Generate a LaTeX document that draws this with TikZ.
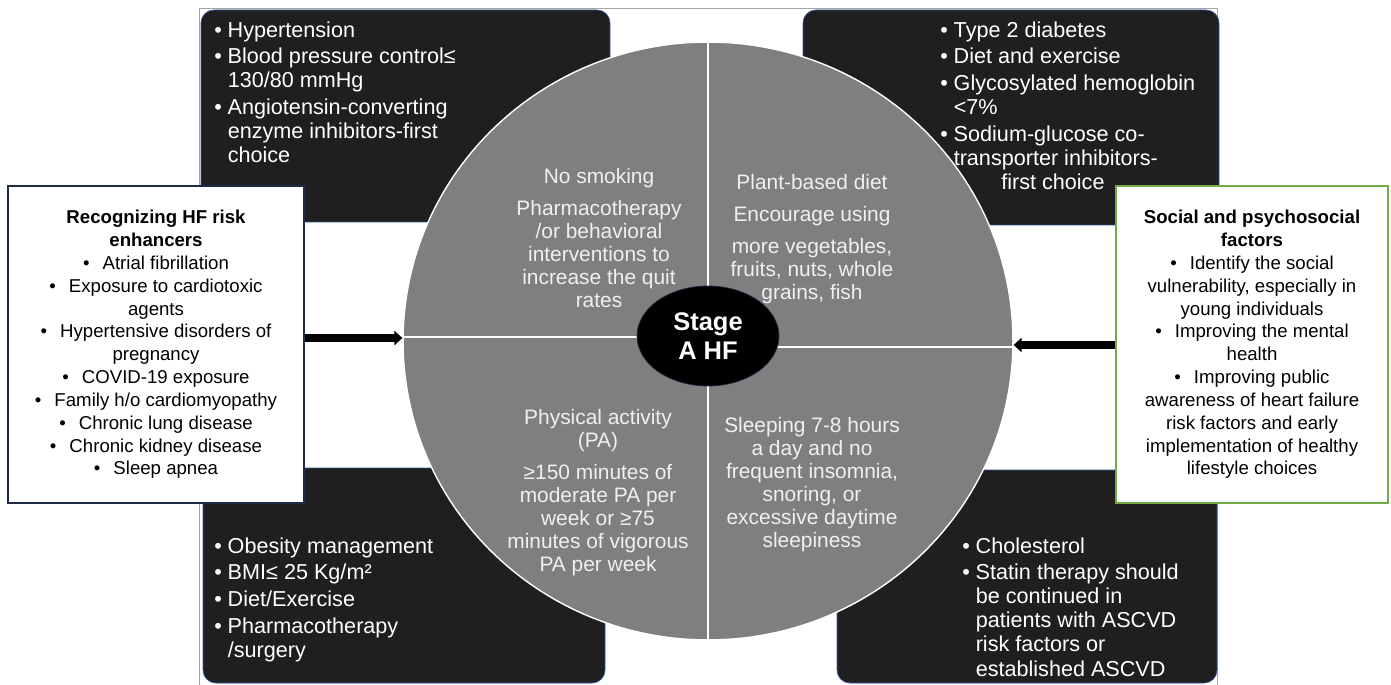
\documentclass[tikz,border=0pt]{standalone}
\usepackage{fontspec}
\setmainfont{Liberation Sans}
\usepackage{xcolor}
\usetikzlibrary{arrows.meta, positioning, shapes.geometric}
\definecolor{darkfill}{HTML}{1F1F1F}
\definecolor{piegray}{HTML}{7F7F7F}
\definecolor{navyline}{HTML}{1F2A44}
\definecolor{leafline}{HTML}{70AD47}
\definecolor{edgeblue}{HTML}{2F5597}
\newcommand{\darkitem}{\makebox[0.62em][l]{\textbullet}}
\newcommand{\darkcont}{\hspace*{0.62em}}
\newcommand{\dotitem}{\textbullet\hspace{0.7em}}

\begin{document}
\begin{tikzpicture}[
      x=0.02cm, y=-0.02cm,
      darkbox/.style={fill=darkfill, draw=edgeblue, line width=0.4pt, rounded corners=0.26cm},
      darktext/.style={text=white, align=left, anchor=north west, inner sep=0pt, font=\fontsize{12.3}{13.7}\selectfont},
      pietext/.style={text=white!94!black, align=center, anchor=north, inner sep=0pt, font=\fontsize{11.9}{13.1}\selectfont},
      sidebox/.style={fill=white, line width=0.7pt, minimum height=6.34cm, inner sep=0pt, align=center, font=\fontsize{10.6}{13}\selectfont},
      bigarrow/.style={line width=4pt, -{Triangle[length=4.5pt, width=8pt]}}
    ]
      \useasboundingbox (0,0) rectangle (1391,685);
      \draw[gray!70, line width=0.5pt] (199,690) -- (199,8) -- (1217,8) -- (1217,690);

      \draw[darkbox] (201,10) rectangle (610,222);
      \draw[darkbox] (803,10) rectangle (1219,225);
      \draw[darkbox] (203,468) rectangle (605,683);
      \draw[darkbox] (837,470) rectangle (1217,683);

      \node[darktext] (hyper) at (214,21) {\darkitem Hypertension\\[1.5pt]
        \darkitem Blood pressure control≤\\ \darkcont 130/80 mmHg\\[1.5pt]
        \darkitem Angiotensin-converting\\ \darkcont enzyme inhibitors-first\\ \darkcont choice};
      \node[darktext] (diabetes) at (940,21) {\darkitem Type 2 diabetes\\[1.5pt]
        \darkitem Diet and exercise\\[1.5pt]
        \darkitem Glycosylated hemoglobin\\ \darkcont <7\%\\[1.5pt]
        \darkitem Sodium-glucose co-\\ \darkcont transporter inhibitors-\\ \darkcont\hspace*{2.2em}first choice};
      \node[darktext] (obesity) at (214,537) {\darkitem Obesity management\\[1.5pt]
        \darkitem BMI≤ 25 Kg/m²\\[1.5pt]
        \darkitem Diet/Exercise\\[1.5pt]
        \darkitem Pharmacotherapy\\ \darkcont /surgery};
      \node[darktext] (cholesterol) at (962,537) {\darkitem Cholesterol\\[1.5pt]
        \darkitem Statin therapy should\\ \darkcont be continued in\\ \darkcont patients with ASCVD\\
        \darkcont risk factors or\\ \darkcont established ASCVD};

      \node[ellipse, fill=piegray, draw=white, line width=0.8pt, minimum width=12.2cm, minimum height=11.96cm, inner sep=0pt] (circ) at (708,341) {};
      \draw[white, line width=0.9pt] (circ.north) -- (circ.south);
      \coordinate (lsplit) at ([yshift=0.08cm]circ.west);
      \coordinate (rsplit) at ([yshift=-0.12cm]circ.east);
      \draw[white, line width=0.9pt] (lsplit) -- (lsplit -| circ.center);
      \draw[white, line width=0.9pt] (rsplit) -- (rsplit -| circ.center);

      \node[pietext] (smoking) at (599,168) {No smoking\\[5pt] Pharmacotherapy\\ /or behavioral\\ interventions to\\ increase the quit\\ rates};
      \node[pietext] (diet) at (812,174) {Plant-based diet\\[5pt] Encourage using\\[5pt] more vegetables,\\ fruits, nuts, whole\\ grains, fish};
      \node[pietext] (activity) at (598,409) {Physical activity\\ (PA)\\[5pt] ≥150 minutes of\\ moderate PA per\\ week or ≥75\\ minutes of vigorous\\ PA per week};
      \node[pietext] (sleep) at (812,417) {Sleeping 7-8 hours\\ a day and no\\ frequent insomnia,\\ snoring, or\\ excessive daytime\\ sleepiness};

      \node[ellipse, fill=black, draw=navyline, minimum width=2.84cm, minimum height=2cm, inner sep=0pt, text=white, align=center, font=\bfseries\fontsize{14.5}{16.5}\selectfont] (stage) at (708,336) {Stage\\A HF};

      \node[sidebox, draw=navyline, minimum width=5.92cm] (enhancers) at (156,344.5) {\textbf{Recognizing HF risk}\\ \textbf{enhancers}\\
        \dotitem Atrial fibrillation\\ \dotitem Exposure to cardiotoxic\\ agents\\
        \dotitem Hypertensive disorders of\\ pregnancy\\ \dotitem COVID-19 exposure\\
        \dotitem Family h/o cardiomyopathy\\ \dotitem Chronic lung disease\\
        \dotitem Chronic kidney disease\\ \dotitem Sleep apnea};
      \node[sidebox, draw=leafline, minimum width=5.44cm] (social) at (1252,344.5) {\textbf{Social and psychosocial}\\ \textbf{factors}\\
        \dotitem Identify the social\\ vulnerability, especially in\\ young individuals\\
        \dotitem Improving the mental\\ health\\ \dotitem Improving public\\
        awareness of heart failure\\ risk factors and early\\ implementation of healthy\\ lifestyle choices};

      \coordinate (lhit) at ([yshift=0.06cm]circ.west);
      \coordinate (rhit) at ([yshift=-0.08cm]circ.east);
      \draw[bigarrow] (lhit -| enhancers.east) -- (lhit);
      \draw[bigarrow] (rhit -| social.west) -- (rhit);
    \end{tikzpicture}
\end{document}
